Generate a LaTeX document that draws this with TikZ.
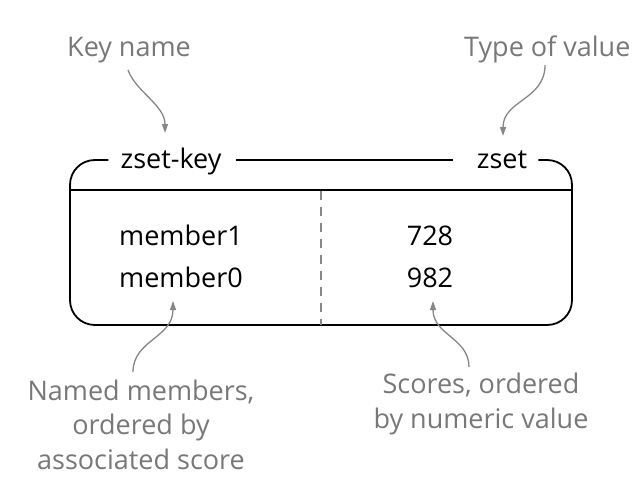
\documentclass[tikz,border=0pt]{standalone}
\usepackage{fontspec}
\setmainfont{Open Sans}
\usetikzlibrary{arrows.meta}
\definecolor{notegray}{RGB}{120,120,120}
\definecolor{arrowgray}{RGB}{135,135,135}
\tikzset{
  note/.style={text=notegray, font=\fontsize{27}{34.5}\selectfont, inner sep=0pt, align=center},
  entry/.style={text=black, font=\fontsize{27}{34}\selectfont, inner sep=0pt},
  frame/.style={draw=black, line width=1.8pt},
  divider/.style={draw=arrowgray, line width=1.5pt, dash pattern=on 9pt off 7pt},
  pointer/.style={draw=arrowgray, line width=1.3pt, -{Triangle[length=9pt,width=6pt]}},
}
\begin{document}
\begin{tikzpicture}[x=1pt,y=-1pt]
\useasboundingbox (0,0) rectangle (640,477);
\fill[white] (0,0) rectangle (640,477);
% labels
\node[note, anchor=base] (keyname) at (129,56) {Key name};
\node[note, anchor=base west] (typeval) at (464,56) {Type of value};
\node[entry, anchor=base] (zsetkey) at (171,168) {zset-key};
\node[entry, anchor=base] (zset) at (502,168) {zset};
\node[entry, anchor=base west] (m1) at (119,245) {member1};
\node[entry, anchor=base west] (m0) at (119,287) {member0};
\node[entry, anchor=base] (s1) at (430,245) {728};
\node[entry, anchor=base] (s0) at (430,287) {982};
\node[note, anchor=base] (named) at (141,469) {Named members,\\ordered by\\associated score};
\node[note, anchor=base] (scores) at (481,428) {Scores, ordered\\by numeric value};
% frame
\draw[frame] ([xshift=-12pt]zsetkey.west |- 0,160) -- (95,160) .. controls (81,160) and (70,171) .. (70,185)
  -- (70,300) .. controls (70,314) and (81,325) .. (95,325)
  -- (547,325) .. controls (561,325) and (572,314) .. (572,300)
  -- (572,185) .. controls (572,171) and (561,160) .. (547,160) -- ([xshift=11pt]zset.east |- 0,160);
\draw[frame] ([xshift=14pt]zsetkey.east |- 0,160) -- ([xshift=-24pt]zset.west |- 0,160);
\draw[frame] (70,190) -- (572,190);
\draw[divider] (321,191) -- (321,325);
% pointers
\coordinate (kstart) at (128,70);
\coordinate (kend) at (165,133);
\coordinate (tstart) at (545,65);
\coordinate (tend) at (503,136);
\coordinate (mstart) at (133,372);
\coordinate (mend) at (173,301);
\coordinate (sstart) at (469,367);
\coordinate (send) at (433,301);
\draw[pointer] (kstart) .. controls (136,92) and (165,105) .. (kend);
\draw[pointer] (tstart) .. controls (545,100) and (503,100) .. (tend);
\draw[pointer] (mstart) .. controls (133,340) and (173,338) .. (mend);
\draw[pointer] (sstart) .. controls (469,338) and (433,335) .. (send);
\end{tikzpicture}
\end{document}
